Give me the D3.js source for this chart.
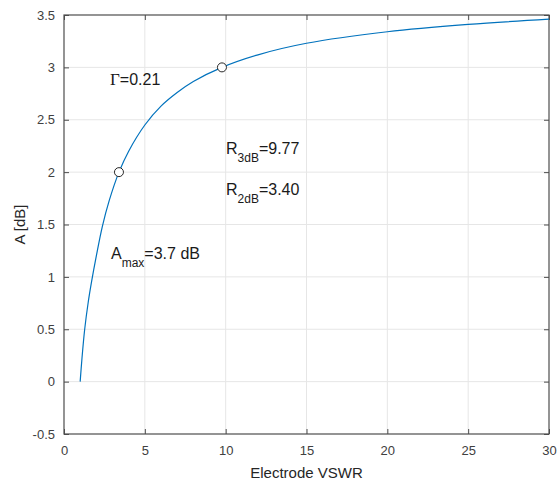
<!DOCTYPE html>
<html>
<head>
<meta charset="utf-8">
<script src="https://cdn.jsdelivr.net/npm/d3@7"></script>
<style>
  body { margin: 0; background: #fff; }
  svg { display: block; font-family: "Liberation Sans", Arial, sans-serif; }
</style>
</head>
<body>
<svg id="chart"></svg>
<script>
// values
const vswr = [1, 1.1, 1.28, 1.5, 1.7, 2, 2.37, 2.8, 3.4, 4, 5, 6, 7, 8, 9.77, 12, 15, 20, 25, 30];
const atten = [0, 0.2, 0.5, 0.76, 0.95, 1.2, 1.48, 1.73, 2.0, 2.2, 2.45, 2.63, 2.76, 2.865, 3.0, 3.12, 3.23, 3.34, 3.41, 3.46];
const markerX = [3.40, 9.77];
const markerY = [2, 3];
const xTicks = [0, 5, 10, 15, 20, 25, 30];
const yTicks = [-0.5, 0, 0.5, 1, 1.5, 2, 2.5, 3, 3.5];

const width = 557;
const height = 483;
const marginTop = 15;
const marginRight = 8;
const marginBottom = 49;
const marginLeft = 64;

const x = d3.scaleLinear().domain([0, 30]).range([marginLeft, width - marginRight]);
const y = d3.scaleLinear().domain([-0.5, 3.5]).range([height - marginBottom, marginTop]);

const svg = d3.select("#chart")
  .attr("width", width)
  .attr("height", height)
  .attr("viewBox", [0, 0, width, height]);

// grid
svg.append("g")
  .attr("stroke", "#e6e6e6")
  .call((g) => g.selectAll("line.v").data(xTicks.slice(1, -1)).join("line")
    .attr("x1", (d) => x(d)).attr("x2", (d) => x(d))
    .attr("y1", marginTop).attr("y2", height - marginBottom))
  .call((g) => g.selectAll("line.h").data(yTicks.slice(1, -1)).join("line")
    .attr("class", "h")
    .attr("x1", marginLeft).attr("x2", width - marginRight)
    .attr("y1", (d) => y(d)).attr("y2", (d) => y(d)));

const axisColor = "#4d4d4d";
const tickColor = "#404040";
const plain = (d) => String(d);

// axes (ticks pointing inward, mirrored on top/right)
const styleAxis = (g) => {
  g.select(".domain").remove();
  g.selectAll(".tick line").attr("stroke", axisColor);
  g.selectAll(".tick text").attr("fill", tickColor).attr("font-size", 13);
};

svg.append("g")
  .attr("transform", `translate(0,${height - marginBottom})`)
  .call(d3.axisBottom(x).tickValues(xTicks).tickSize(-5).tickPadding(12).tickFormat(plain))
  .call(styleAxis);

svg.append("g")
  .attr("transform", `translate(0,${marginTop})`)
  .call(d3.axisTop(x).tickValues(xTicks).tickSize(-5).tickFormat(""))
  .call(styleAxis);

svg.append("g")
  .attr("transform", `translate(${marginLeft},0)`)
  .call(d3.axisLeft(y).tickValues(yTicks).tickSize(-5).tickPadding(9).tickFormat(plain))
  .call(styleAxis);

svg.append("g")
  .attr("transform", `translate(${width - marginRight},0)`)
  .call(d3.axisRight(y).tickValues(yTicks).tickSize(-5).tickFormat(""))
  .call(styleAxis);

svg.append("rect")
  .attr("x", marginLeft).attr("y", marginTop)
  .attr("width", width - marginRight - marginLeft)
  .attr("height", height - marginBottom - marginTop)
  .attr("fill", "none")
  .attr("stroke", axisColor)
  .attr("stroke-width", 1.2);

// curve
const line = d3.line()
  .x((d, i) => x(vswr[i]))
  .y((d) => y(d))
  .curve(d3.curveCatmullRom.alpha(0.5));

svg.append("path")
  .datum(atten)
  .attr("fill", "none")
  .attr("stroke", "#0072BD")
  .attr("stroke-width", 1.2)
  .attr("d", line);

svg.append("g")
  .selectAll("circle")
  .data(markerX)
  .join("circle")
  .attr("cx", (d) => x(d))
  .attr("cy", (d, i) => y(markerY[i]))
  .attr("r", 4.5)
  .attr("fill", "#fff")
  .attr("stroke", "#262626")
  .attr("stroke-width", 1);

// axis labels
svg.append("text")
  .attr("x", (marginLeft + width - marginRight) / 2)
  .attr("y", 478)
  .attr("text-anchor", "middle")
  .attr("font-size", 15)
  .attr("fill", "#262626")
  .text("Electrode VSWR");

svg.append("text")
  .attr("transform", `translate(25,${(marginTop + height - marginBottom) / 2}) rotate(-90)`)
  .attr("text-anchor", "middle")
  .attr("font-size", 15)
  .attr("fill", "#262626")
  .text("A [dB]");

// annotations
const note = svg.append("g").attr("font-size", 16).attr("fill", "#1a1a1a");

const gammaText = note.append("text").attr("x", 110).attr("y", 85);
gammaText.append("tspan").attr("font-family", "'Liberation Serif', serif").attr("font-size", 17).text("Γ");
gammaText.append("tspan").text("=0.21");

const sub = (x0, y0, main, subText, rest) => {
  const el = note.append("text").attr("x", x0).attr("y", y0);
  el.append("tspan").text(main);
  el.append("tspan").attr("font-size", 12).attr("dy", 8).text(subText);
  el.append("tspan").attr("dy", -8).text(rest);
};
sub(226, 154, "R", "3dB", "=9.77");
sub(226, 195, "R", "2dB", "=3.40");
sub(111, 259, "A", "max", "=3.7 dB");
</script>
</body>
</html>
